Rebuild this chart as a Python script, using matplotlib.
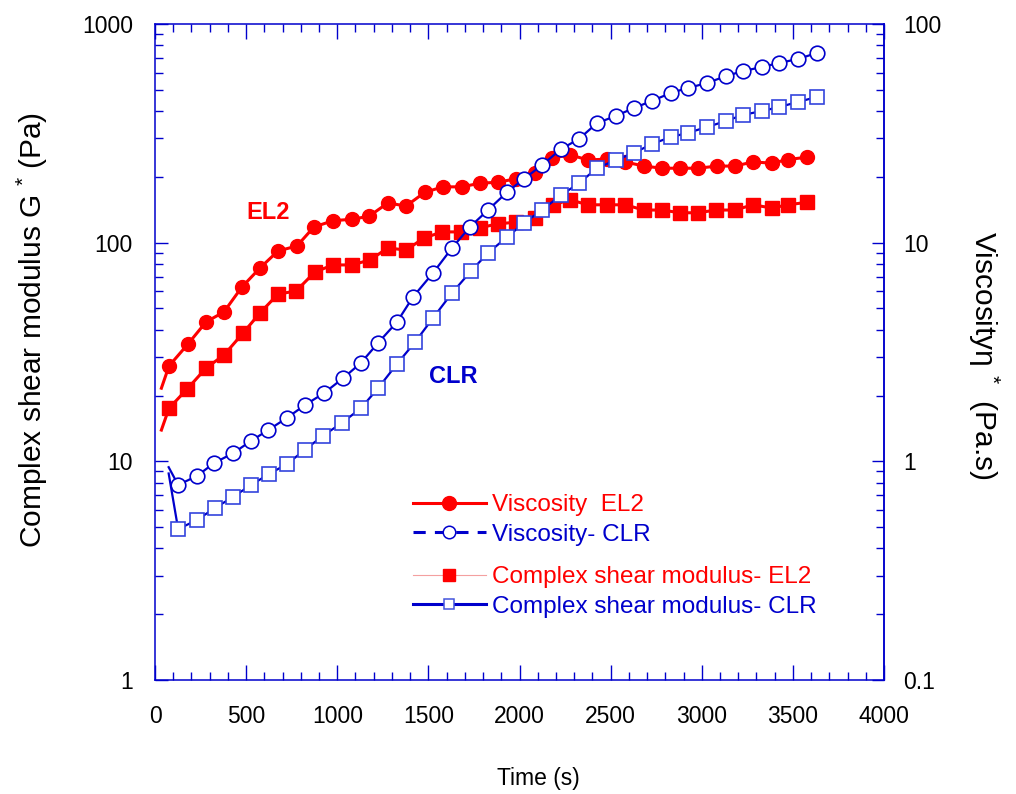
import matplotlib
matplotlib.use("Agg")
import matplotlib.pyplot as plt
from matplotlib.lines import Line2D
from matplotlib.ticker import LogLocator, MultipleLocator, FixedLocator, FixedFormatter

plt.rcParams['font.family'] = ['Liberation Sans', 'DejaVu Sans']
plt.rcParams['mathtext.fontset'] = 'custom'
plt.rcParams['mathtext.rm'] = 'Liberation Sans'
plt.rcParams['mathtext.default'] = 'regular'

RED = '#ff0000'
BLUE = '#0000cc'

# viscosity EL2 (Pa.s)
t_visc_el2 = [35, 77, 181, 280, 378, 477, 576, 675, 779, 872, 977, 1081, 1174, 1278,
              1377, 1481, 1580, 1684, 1783, 1882, 1981, 2085, 2180, 2277, 2376, 2480,
              2579, 2683, 2782, 2881, 2979, 3084, 3182, 3281, 3385, 3473, 3578]
visc_el2 = [2.16, 2.73, 3.44, 4.34, 4.82, 6.27, 7.66, 9.16, 9.66, 11.8, 12.6, 12.8, 13.2, 15.2,
            14.7, 17.0, 18.0, 18.0, 18.7, 18.9, 19.6, 20.8, 24.4, 25.2, 23.9, 24.1,
            23.4, 22.4, 21.9, 21.9, 21.9, 22.4, 22.4, 23.4, 23.1, 24.0, 24.6]

# viscosity CLR (Pa.s)
t_visc_clr = [75, 127, 230, 325, 429, 527, 621, 724, 823, 927, 1032, 1130, 1224, 1328,
              1416, 1525, 1630, 1728, 1827, 1931, 2025, 2123, 2228, 2326, 2425, 2529,
              2628, 2727, 2831, 2925, 3029, 3133, 3226, 3331, 3424, 3528, 3632]
visc_clr = [0.94, 0.78, 0.857, 0.983, 1.09, 1.24, 1.39, 1.58, 1.81, 2.05, 2.40, 2.82, 3.48, 4.34,
            5.65, 7.26, 9.46, 11.8, 14.1, 17.0, 19.6, 22.6, 26.8, 29.8, 35.2, 38.0,
            41.3, 44.5, 48.4, 51.0, 53.7, 57.8, 60.9, 63.6, 66.3, 69.2, 73.7]

# complex shear modulus EL2 (Pa)
t_g_el2 = [35, 77, 176, 280, 378, 483, 576, 675, 774, 878, 977, 1081, 1180, 1278, 1377,
           1476, 1575, 1679, 1783, 1882, 1981, 2085, 2185, 2277, 2376, 2480, 2579,
           2683, 2782, 2881, 2979, 3078, 3182, 3281, 3385, 3473, 3578]
g_el2 = [13.9, 17.5, 21.4, 26.7, 30.6, 38.6, 47.7, 58.2, 60.1, 73.5, 79.1, 79.1, 83.4, 94.6, 92.5,
         105, 112, 112, 117, 122, 124, 130, 149, 157, 149, 149, 149,
         141, 141, 137, 137, 141, 141, 149, 144, 149, 153]

# complex shear modulus CLR (Pa)
t_g_clr = [75, 127, 230, 329, 428, 527, 626, 724, 823, 922, 1026, 1130, 1224, 1328, 1427,
           1525, 1630, 1734, 1827, 1931, 2025, 2123, 2228, 2326, 2425, 2529, 2628,
           2727, 2831, 2925, 3029, 3133, 3226, 3331, 3424, 3528, 3632]
g_clr = [8.8, 4.9, 5.39, 6.12, 6.87, 7.8, 8.75, 9.72, 11.3, 13.1, 15.0, 17.5, 21.6, 27.9, 35.1,
         45.2, 58.9, 74.2, 89.7, 106, 123, 141, 165, 187, 219, 239, 257,
         283, 304, 318, 338, 360, 384, 400, 417, 440, 464]

x_ticks = [0, 500, 1000, 1500, 2000, 2500, 3000, 3500, 4000]
left_ticks = [1, 10, 100, 1000]
right_ticks = [0.1, 1, 10, 100]

fig = plt.figure(figsize=(10.16, 7.94), dpi=100)
ax = fig.add_axes([155 / 1016, 1 - 680 / 794, 729 / 1016, 656 / 794])

# viscosity shares the same log axis, scaled by 10 (right axis = left / 10)
skip = slice(1, None)
ax.plot(t_visc_el2, [v * 10 for v in visc_el2], color=RED, lw=2.2, marker='o', ms=10,
        mfc=RED, mec=RED, markevery=skip, zorder=3)
ax.plot(t_g_el2, g_el2, color=RED, lw=2.2, marker='s', ms=10.5, mfc=RED, mec=RED,
        markevery=skip, zorder=3)
ax.plot(t_visc_clr, [v * 10 for v in visc_clr], color=BLUE, lw=1.6, marker='o', ms=10.5,
        mfc='white', mec=BLUE, mew=1.2, markevery=skip, zorder=4)
ax.plot(t_g_clr, g_clr, color=BLUE, lw=1.6, marker='s', ms=10.5, mfc='white', mec='#3344dd',
        mew=1.2, markevery=skip, zorder=4)

ax.set_xlim(0, 4000)
ax.set_yscale('log')
ax.set_ylim(1, 1000)

ax.text(620, 137, 'EL2', color=RED, fontsize=17, fontweight='bold', ha='center', va='center')
ax.text(1635, 24.5, 'CLR', color=BLUE, fontsize=17, fontweight='bold', ha='center', va='center')

# axes styling
for s in ax.spines.values():
    s.set_color(BLUE)
    s.set_linewidth(1.1)
ax.xaxis.set_major_locator(FixedLocator(x_ticks))
ax.xaxis.set_minor_locator(MultipleLocator(100))
ax.yaxis.set_major_locator(FixedLocator(left_ticks))
ax.yaxis.set_major_formatter(FixedFormatter([str(v) for v in left_ticks]))
ax.yaxis.set_minor_locator(LogLocator(base=10, subs=range(2, 10)))
ax.yaxis.set_minor_formatter(FixedFormatter([]))
ax.tick_params(axis='x', which='major', direction='in', length=11, width=1, color=BLUE,
               top=True, labelsize=16.5, pad=18)
ax.tick_params(axis='x', which='minor', direction='in', length=5.5, width=1, color=BLUE, top=True)
ax.tick_params(axis='y', which='major', direction='in', length=9, width=1, color=BLUE,
               labelsize=16.5, pad=16)
ax.tick_params(axis='y', which='minor', direction='in', length=6, width=1, color=BLUE)

ax2 = ax.secondary_yaxis('right', functions=(lambda y: y / 10, lambda y: y * 10))
ax2.spines['right'].set_color(BLUE)
ax2.spines['right'].set_linewidth(1.1)
ax2.yaxis.set_major_locator(FixedLocator(right_ticks))
ax2.yaxis.set_major_formatter(FixedFormatter(['0.1', '1', '10', '100']))
ax2.yaxis.set_minor_locator(LogLocator(base=10, subs=range(2, 10)))
ax2.yaxis.set_minor_formatter(FixedFormatter([]))
ax2.tick_params(axis='y', which='major', direction='in', length=9, width=1, color=BLUE,
                labelsize=16.5, pad=14)
ax2.tick_params(axis='y', which='minor', direction='in', length=6, width=1, color=BLUE)

ax.set_ylabel('Complex shear modulus G $^{*}$ (Pa)', fontsize=21.5, va='center')
ax.yaxis.set_label_coords((32 - 155) / 729, (680 - 330) / 656)
ax2.set_ylabel('Viscosity\u03b7 $^{*}$  (Pa.s)', fontsize=21.5, rotation=270, va='center')
ax2.yaxis.set_label_coords((984 - 155) / 729, (680 - 355) / 656, transform=ax.transAxes)
ax.set_xlabel('Time (s)', fontsize=16.5, va='center')
ax.xaxis.set_label_coords((538 - 155) / 729, -(779 - 680) / 656)

# legend (two groups)
h1 = [Line2D([], [], color=RED, lw=2.2, marker='o', ms=10, mfc=RED, mec=RED),
      Line2D([], [], color=BLUE, lw=2.2, ls=(0, (4, 3)), marker='o', ms=9, mfc='white',
             mec=BLUE, mew=1.1)]
h2 = [Line2D([], [], color='#f4a0a0', lw=0.8, marker='s', ms=9, mfc=RED, mec=RED),
      Line2D([], [], color=BLUE, lw=2.2, marker='s', ms=7.5, mfc='white', mec='#4455dd',
             mew=1.1)]
leg1 = ax.legend(h1, ['Viscosity  EL2', 'Viscosity- CLR'], loc='center left',
                 bbox_to_anchor=((413 - 155) / 729, (680 - 520) / 656), frameon=False,
                 fontsize=17.5, handlelength=3.0, handletextpad=0.25, labelspacing=0.3,
                 borderpad=0, borderaxespad=0, labelcolor=[RED, BLUE])
ax.add_artist(leg1)
ax.legend(h2, ['Complex shear modulus- EL2', 'Complex shear modulus- CLR'], loc='center left',
          bbox_to_anchor=((413 - 155) / 729, (680 - 592) / 656), frameon=False,
          fontsize=17.5, handlelength=3.0, handletextpad=0.25, labelspacing=0.3,
          borderpad=0, borderaxespad=0, labelcolor=[RED, BLUE])

fig.savefig('out.png', dpi=100)
